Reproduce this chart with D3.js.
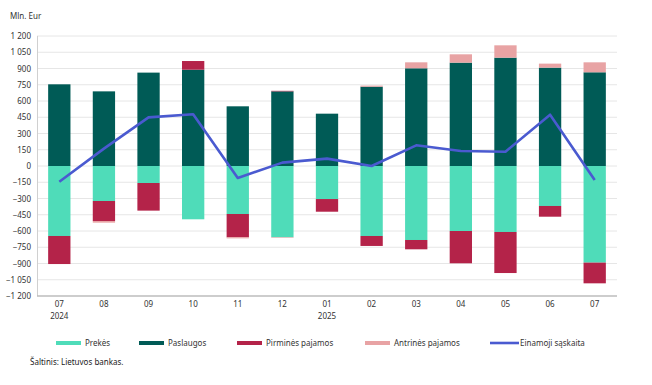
<!DOCTYPE html>
<html><head><meta charset="utf-8">
<script src="https://cdn.jsdelivr.net/npm/d3@7"></script>
<style>body{margin:0;background:#fff;font-family:"Noto Sans",sans-serif;}</style>
</head><body><svg id="c" width="652" height="385"></svg>
<script>
const months = ["07","08","09","10","11","12","01","02","03","04","05","06","07"];
const years = ["2024","","","","","","2025","","","","","",""];
const prekes =    [-646,-323,-157,-492,-443,-658,-305,-646,-683,-600,-609,-369,-892];
const paslaugos = [754,689,862,889,551,689,483,732,902,954,1000,908,865];
const pirmines =  [-259,-185,-255,80,-215,5,-117,-92,-86,-298,-379,-99,-191];
const antrines =  [0,-15,0,0,-10,-5,0,10,55,77,114,37,92];
const einamoji =  [-145,160,449,477,-111,31,68,0,191,138,132,474,-129];
const yTicks = [-1200,-1050,-900,-750,-600,-450,-300,-150,0,150,300,450,600,750,900,1050,1200];
const seriesNames = ["Prekės","Paslaugos","Pirminės pajamos","Antrinės pajamos"];
const lineName = "Einamoji sąskaita";
const colors = ["#4fdcb9","#005b56","#b42349","#e8a3a4"];
const lineColor = "#4a5ad0";

const svg = d3.select("#c");
const x = d3.scaleBand().domain(d3.range(months.length)).range([37,617]).paddingInner(0.5).paddingOuter(0.25);
const y = d3.scaleLinear().domain([-1200,1200]).range([296,36]);
const fmt = v => (v<0?"\u2212":"") + d3.format(",")(Math.abs(v)).replace(/,/g," ");

// gridlines
svg.append("g").selectAll("line").data(yTicks.filter(t=>t>-1200)).join("line")
  .attr("x1",37).attr("x2",617).attr("y1",d=>y(d)).attr("y2",d=>y(d))
  .attr("stroke","#e6e6e6").attr("stroke-width",1);
// left axis line
svg.append("line").attr("x1",37.5).attr("x2",37.5).attr("y1",y(1200)).attr("y2",y(-1200)).attr("stroke","#d0d0d0");
// bottom axis
svg.append("line").attr("x1",37).attr("x2",617).attr("y1",y(-1200)).attr("y2",y(-1200)).attr("stroke","#bdbdbd").attr("stroke-width",1.5);

// y labels
svg.append("g").selectAll("text").data(yTicks).join("text")
  .attr("x",31).attr("y",d=>y(d)+3).attr("text-anchor","end")
  .attr("font-size",8).attr("fill","#333").text(fmt);
svg.append("text").attr("x",10).attr("y",19).attr("font-size",8).attr("fill","#333").text("Mln. Eur");

// stacked bars
const rows = months.map((m,i)=>({i, s0:prekes[i], s1:paslaugos[i], s2:pirmines[i], s3:antrines[i]}));
const stack = d3.stack().keys(["s0","s1","s2","s3"]).offset(d3.stackOffsetDiverging);
const st = stack(rows);
svg.append("g").selectAll("g").data(st).join("g").attr("fill",(d,k)=>colors[k])
  .selectAll("rect").data(d=>d).join("rect")
  .attr("x",d=>x(d.data.i)).attr("width",x.bandwidth())
  .attr("y",d=>y(Math.max(d[0],d[1]))).attr("height",d=>Math.abs(y(d[0])-y(d[1])));

// line
const line = d3.line().x((d,i)=>x(i)+x.bandwidth()/2).y(d=>y(d));
svg.append("path").datum(einamoji).attr("d",line).attr("fill","none")
  .attr("stroke",lineColor).attr("stroke-width",2.6).attr("stroke-linejoin","round");

// x labels
const xl = svg.append("g");
xl.selectAll("text.m").data(months).join("text").attr("class","m")
  .attr("x",(d,i)=>x(i)+x.bandwidth()/2).attr("y",307).attr("text-anchor","middle")
  .attr("font-size",8).attr("fill","#333").text(d=>d);
xl.selectAll("text.yr").data(years).join("text").attr("class","yr")
  .attr("x",(d,i)=>x(i)+x.bandwidth()/2).attr("y",319).attr("text-anchor","middle")
  .attr("font-size",8).attr("fill","#333").text(d=>d);

// legend
const legX = [56,139,237,365,490];
const names = seriesNames.concat([lineName]);
const lg = svg.append("g");
names.forEach((n,k)=>{
  if(k<4){
    lg.append("rect").attr("x",legX[k]).attr("y",341).attr("width",25).attr("height",4).attr("fill",colors[k]);
  } else {
    lg.append("line").attr("x1",legX[k]).attr("x2",legX[k]+29).attr("y1",343).attr("y2",343)
      .attr("stroke",lineColor).attr("stroke-width",2.6);
  }
  lg.append("text").attr("x",legX[k]+(k<4?29:30)).attr("y",346).attr("font-size",8).attr("fill","#333").text(n);
});
svg.append("text").attr("x",30).attr("y",365).attr("font-size",8).attr("fill","#222").text("Šaltinis: Lietuvos bankas.");
</script></body></html>
